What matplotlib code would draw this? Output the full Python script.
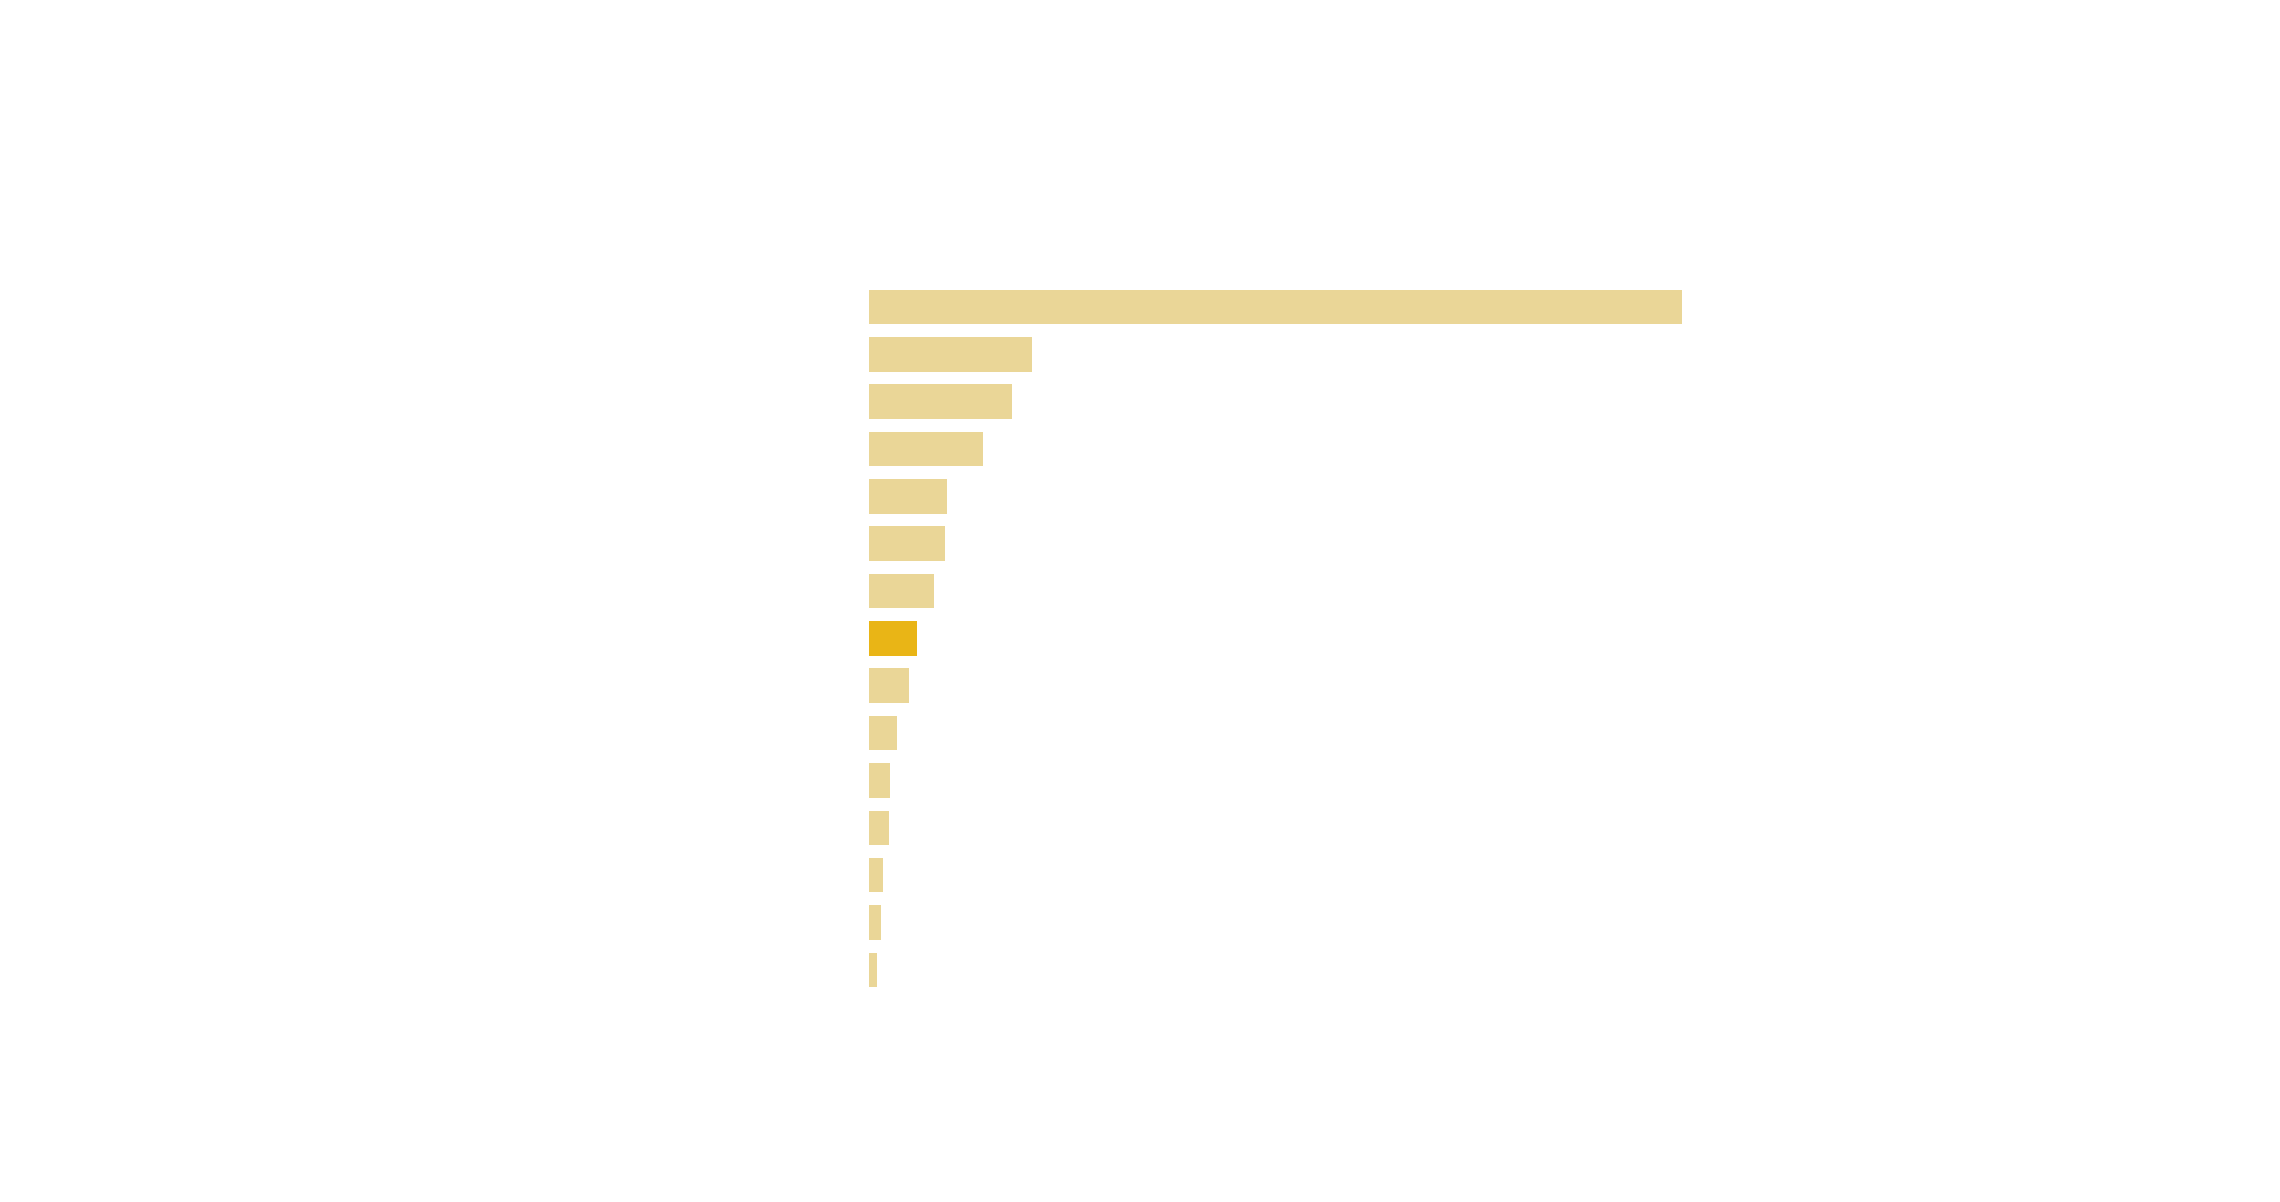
import matplotlib
matplotlib.use("Agg")
import matplotlib.pyplot as plt

# bar lengths (no labels shown in the chart)
values = [813, 163, 143, 114, 78, 76, 65, 48, 40, 28, 21, 20, 14, 12, 8]
highlight = 7

base_color = '#EAD697'
hi_color = '#E9B516'
colors = [hi_color if i == highlight else base_color for i in range(len(values))]

fig = plt.figure(figsize=(22.8, 12.02), dpi=100)
ax = fig.add_axes([869 / 2280, 0.1734, (1682 - 869) / 2280, 0.7644 - 0.1734])

ax.barh(range(len(values)), values, height=0.73, color=colors)
ax.set_xlim(0, max(values))
ax.set_ylim(len(values) - 0.5, -0.5)
ax.axis('off')

fig.savefig('out.png', dpi=100, facecolor='white')
